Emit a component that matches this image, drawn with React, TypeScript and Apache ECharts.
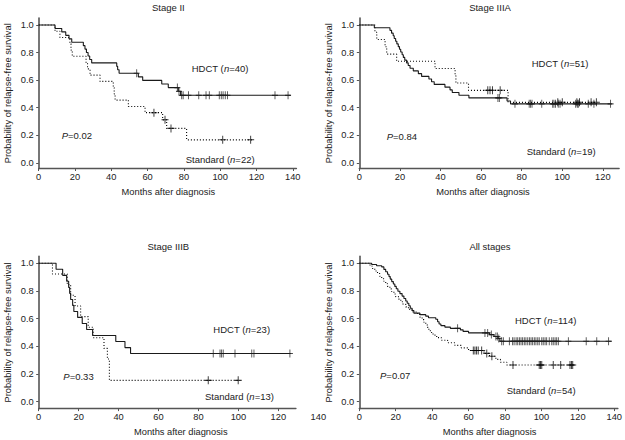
import React, { useEffect, useRef } from 'react';
import * as echarts from 'echarts';

// ---------- text ----------
const panelTitles = ['Stage II', 'Stage IIIA', 'Stage IIIB', 'All stages'];
const hdctN = [40, 51, 23, 114];
const standardN = [22, 19, 13, 54];
const pValues = ['0.02', '0.84', '0.33', '0.07'];
const yAxisTitle = 'Probability of relapse-free survival';
const xAxisTitle = 'Months after diagnosis';
const yTicks = [0, 0.2, 0.4, 0.6, 0.8, 1.0];
const xTicksTo140 = [0, 20, 40, 60, 80, 100, 120, 140];
const xTicksTo120 = [0, 20, 40, 60, 80, 100, 120];
const strayTickLabel = '140';

// ---------- Stage II ----------
const stage2HdctSteps: [number, number][] = [
  [0, 1], [9.0, 0.975], [12.7, 0.95], [14.9, 0.925], [16.7, 0.9], [18.2, 0.875],
  [24.6, 0.85], [25.5, 0.825], [26.3, 0.8], [27.2, 0.775], [28.1, 0.75], [29.2, 0.725],
  [43.0, 0.7], [43.5, 0.675], [44.3, 0.65], [54.9, 0.624], [57.3, 0.598], [67.8, 0.572],
  [71.4, 0.546], [76.9, 0.519], [78.2, 0.49],
];
const stage2HdctCensored = [54.0, 76.4, 77.3, 78.8, 79.6, 82.5, 88.2, 92.2, 94.0, 99.5, 100.6, 101.6, 102.8, 104.0, 130.2, 137.4];
const stage2HdctEnd = 138.8;
const stage2StdSteps: [number, number][] = [
  [0, 1], [9.0, 0.955], [11.7, 0.909], [17.2, 0.864], [17.8, 0.818], [18.5, 0.773],
  [26.1, 0.727], [26.9, 0.682], [28.3, 0.636], [33.8, 0.591], [41.1, 0.545], [41.6, 0.5],
  [42.1, 0.455], [49.4, 0.409], [58.6, 0.364], [68.3, 0.312], [70.5, 0.25], [81.5, 0.167],
];
const stage2StdCensored = [63.5, 69.6, 72.9, 101.4, 116.8];
const stage2StdEnd = 118.1;

// ---------- Stage IIIA ----------
const stage3aHdctSteps: [number, number][] = [
  [0, 1], [7.4, 0.98], [15.1, 0.961], [15.9, 0.941], [16.7, 0.922], [17.2, 0.902],
  [17.9, 0.882], [18.5, 0.863], [19.2, 0.843], [19.8, 0.824], [20.4, 0.804], [21.1, 0.784],
  [21.7, 0.765], [22.4, 0.745], [23.3, 0.725], [24.1, 0.706], [25.0, 0.686], [26.6, 0.667],
  [29.1, 0.647], [30.7, 0.627], [34.3, 0.608], [35.6, 0.588], [36.9, 0.569], [42.2, 0.549],
  [44.7, 0.529], [45.8, 0.51], [49.1, 0.49], [54.0, 0.471], [72.8, 0.449], [74.5, 0.428],
];
const stage3aHdctCensored = [68.3, 69.0, 76.7, 83.7, 84.4, 85.1, 89.9, 95.3, 95.9, 96.7, 98.0, 98.9, 106.6, 107.4, 107.9, 112.8, 115.6, 123.8];
const stage3aHdctEnd = 124.4;
const stage3aStdSteps: [number, number][] = [
  [0, 1], [7.7, 0.947], [8.6, 0.895], [12.7, 0.842], [13.5, 0.789], [18.4, 0.737],
  [37.3, 0.684], [47.2, 0.632], [47.6, 0.579], [53.8, 0.526], [73.3, 0.439],
];
const stage3aStdCensored = [63.3, 64.4, 65.6, 69.4, 97.8, 100.0, 107.2, 108.5, 114.2, 116.8];
const stage3aStdEnd = 117.2;

// ---------- Stage IIIB ----------
const stage3bHdctSteps: [number, number][] = [
  [0, 1], [8.7, 0.957], [12.0, 0.913], [14.0, 0.87], [15.0, 0.826], [15.5, 0.783],
  [16.0, 0.739], [17.0, 0.696], [17.6, 0.652], [19.5, 0.609], [21.8, 0.565], [24.0, 0.522],
  [27.0, 0.478], [38.6, 0.435], [43.2, 0.391], [46.0, 0.348],
];
const stage3bHdctCensored = [87.4, 90.8, 91.6, 92.4, 98.3, 106.7, 107.8, 125.8];
const stage3bHdctEnd = 126.2;
const stage3bStdSteps: [number, number][] = [
  [0, 1], [6.9, 0.923], [14.3, 0.846], [16.0, 0.769], [18.2, 0.692], [21.0, 0.615],
  [24.8, 0.538], [27.3, 0.462], [32.7, 0.385], [34.4, 0.308], [35.4, 0.154],
];
const stage3bStdCensored = [84.9, 99.9];
const stage3bStdEnd = 100.2;

// ---------- All stages ----------
const allHdctSteps: [number, number][] = [
  [0, 1], [6.8, 0.991], [9.5, 0.982], [12.3, 0.974], [13.5, 0.956], [14.5, 0.939],
  [15.5, 0.921], [16.3, 0.904], [17.0, 0.886], [17.8, 0.868], [18.7, 0.851], [19.5, 0.833],
  [20.3, 0.816], [21.2, 0.798], [22.3, 0.781], [23.5, 0.763], [24.5, 0.746], [25.5, 0.728],
  [26.3, 0.711], [27.2, 0.693], [28.0, 0.675], [29.0, 0.658], [30.0, 0.64], [33.3, 0.629],
  [36.5, 0.618], [38.0, 0.607], [42.0, 0.596], [43.0, 0.578], [43.8, 0.561], [44.8, 0.55],
  [47.0, 0.539], [50.0, 0.53], [55.5, 0.519], [57.0, 0.508], [60.0, 0.497], [71.5, 0.485],
  [74.0, 0.471], [76.2, 0.457], [77.2, 0.437],
];
const allHdctCensored = [
  54.0, 69.0, 70.5, 72.5, 75.0, 75.8, 76.6, 78.2, 79.1, 82.4, 84.2, 85.0, 86.1, 87.0, 87.9,
  88.8, 89.7, 90.6, 91.5, 92.5, 93.4, 94.3, 95.2, 96.1, 97.0, 98.0, 98.8, 100.2, 101.0, 102.0,
  102.9, 104.3, 105.7, 106.5, 107.5, 108.4, 109.3, 114.8, 124.6, 130.4, 136.9,
];
const allHdctEnd = 138.6;
const allStdSteps: [number, number][] = [
  [0, 1], [5.9, 0.981], [7.0, 0.963], [8.5, 0.944], [10.0, 0.926], [11.2, 0.907],
  [12.3, 0.889], [13.5, 0.87], [14.5, 0.852], [15.5, 0.833], [16.8, 0.815], [17.8, 0.796],
  [19.0, 0.778], [20.0, 0.759], [21.5, 0.741], [22.8, 0.722], [24.0, 0.704], [25.5, 0.685],
  [27.0, 0.667], [29.0, 0.648], [32.0, 0.63], [33.3, 0.611], [34.5, 0.593], [35.5, 0.574],
  [36.5, 0.556], [37.3, 0.537], [38.2, 0.519], [39.0, 0.5], [40.5, 0.481], [42.5, 0.463],
  [45.0, 0.444], [48.5, 0.426], [52.5, 0.407], [56.0, 0.389], [60.0, 0.37], [68.5, 0.349],
  [71.5, 0.328], [75.0, 0.306], [77.5, 0.285], [81.0, 0.265],
];
const allStdCensored = [62.6, 63.5, 64.4, 65.3, 67.2, 70.0, 72.8, 84.4, 98.8, 99.5, 100.2, 106.5, 110.6, 115.7, 116.5, 117.2];
const allStdEnd = 118.5;

const panelHdct = [
  { steps: stage2HdctSteps, censored: stage2HdctCensored, end: stage2HdctEnd },
  { steps: stage3aHdctSteps, censored: stage3aHdctCensored, end: stage3aHdctEnd },
  { steps: stage3bHdctSteps, censored: stage3bHdctCensored, end: stage3bHdctEnd },
  { steps: allHdctSteps, censored: allHdctCensored, end: allHdctEnd },
];
const panelStd = [
  { steps: stage2StdSteps, censored: stage2StdCensored, end: stage2StdEnd },
  { steps: stage3aStdSteps, censored: stage3aStdCensored, end: stage3aStdEnd },
  { steps: stage3bStdSteps, censored: stage3bStdCensored, end: stage3bStdEnd },
  { steps: allStdSteps, censored: allStdCensored, end: allStdEnd },
];

// ---------- layout (pixels) ----------
const FONT = '"Liberation Sans", Arial, Helvetica, sans-serif';
const TXT = '#222';
const AX = '#555';
const layout = [
  { left: 38.7, top: 18.1, width: 257.7, height: 150.4, xMax: 142, yMin: -0.041, xTicks: xTicksTo140, pad: [0, 0, 0, 1.6] },
  { left: 359.3, top: 18.1, width: 259.8, height: 150.4, xMax: 128, yMin: -0.041, xTicks: xTicksTo120, pad: [0, 12.4, 0, 0] },
  { left: 38.7, top: 256.4, width: 257.2, height: 152.2, xMax: 128.8, yMin: -0.05, xTicks: xTicksTo120, pad: [0, 0, 0, 27] },
  { left: 359.3, top: 256.4, width: 258.6, height: 152.2, xMax: 142, yMin: -0.05, xTicks: xTicksTo140, pad: [0, 0, 0, 2] },
];
const titlePos = [[168.3, 7], [490, 7], [168.3, 246.7], [490, 246.7]];
const hdctPos = [[191.7, 68], [531.7, 63.3], [213.3, 329.3], [515, 320.5]];
const stdPos = [[185.7, 159.2], [526.7, 151], [205, 396.7], [506.7, 390]];
const pPos = [[61.7, 135.5], [386.7, 136.7], [63.3, 376], [380, 375.7]];

function survivalAt(steps: [number, number][], t: number): number {
  let s = 1;
  for (const [tt, v] of steps) if (tt <= t) s = v;
  return s;
}

const PLUS = 'path://M5,0L5,10M0,5L10,5';

export default function App() {
  const ref = useRef<HTMLDivElement>(null);
  useEffect(() => {
    if (!ref.current) return;
    const chart = echarts.init(ref.current, null, { renderer: 'svg' });
    const rich = {
      r: { fontSize: 9.5, fontFamily: FONT, color: TXT },
      i: { fontSize: 9.5, fontFamily: FONT, color: TXT, fontStyle: 'italic' },
    };
    const grids: any[] = [];
    const xAxes: any[] = [];
    const yAxes: any[] = [];
    const series: any[] = [];
    const graphics: any[] = [];
    layout.forEach((L, i) => {
      grids.push({ left: L.left, top: L.top, width: L.width, height: L.height, containLabel: false });
      xAxes.push({
        type: 'value', gridIndex: i, min: 0, max: L.xMax,
        axisLine: { show: true, onZero: false, lineStyle: { color: AX, width: 1.4 } },
        axisTick: { show: true, length: 2.5, customValues: L.xTicks, lineStyle: { color: AX, width: 1 } },
        axisLabel: { customValues: L.xTicks, fontSize: 9.3, color: TXT, margin: 4, fontFamily: FONT },
        splitLine: { show: false },
        name: xAxisTitle, nameLocation: 'middle', nameGap: 19,
        nameTextStyle: { fontSize: 9.3, color: TXT, fontFamily: FONT, padding: L.pad },
      });
      yAxes.push({
        type: 'value', gridIndex: i, min: L.yMin, max: 1.05,
        axisLine: { show: true, onZero: false, lineStyle: { color: AX, width: 1.6 } },
        axisTick: { show: true, length: 2.5, customValues: yTicks, lineStyle: { color: AX, width: 1 } },
        axisLabel: { customValues: yTicks, fontSize: 9.3, color: TXT, margin: 5, fontFamily: FONT, formatter: (v: number) => v.toFixed(1) },
        splitLine: { show: false },
        name: yAxisTitle, nameLocation: 'middle', nameGap: 26,
        nameTextStyle: { fontSize: 9.3, color: TXT, fontFamily: FONT },
      });
      const h = panelHdct[i];
      const s = panelStd[i];
      const hData = [...h.steps, [h.end, h.steps[h.steps.length - 1][1]]];
      const sData = [...s.steps, [s.end, s.steps[s.steps.length - 1][1]]];
      series.push({
        type: 'line', xAxisIndex: i, yAxisIndex: i, step: 'end', data: sData, showSymbol: false, silent: true,
        lineStyle: { color: '#000', width: 1.1, type: [1, 2] }, z: 2,
      });
      series.push({
        type: 'line', xAxisIndex: i, yAxisIndex: i, step: 'end', data: hData, showSymbol: false, silent: true,
        lineStyle: { color: '#1a1a1a', width: 1.1, type: 'solid' }, z: 3,
      });
      series.push({
        type: 'scatter', xAxisIndex: i, yAxisIndex: i, silent: true, symbol: PLUS, symbolSize: [7, 8],
        data: s.censored.map((t) => [t, survivalAt(s.steps, t)]),
        itemStyle: { color: 'none', borderColor: '#000', borderWidth: 1 }, z: 4,
      });
      series.push({
        type: 'scatter', xAxisIndex: i, yAxisIndex: i, silent: true, symbol: PLUS, symbolSize: [6, 8],
        data: h.censored.map((t) => [t, survivalAt(h.steps, t)]),
        itemStyle: { color: 'none', borderColor: '#1a1a1a', borderWidth: 1 }, z: 4,
      });
      graphics.push({
        type: 'text', x: titlePos[i][0], y: titlePos[i][1], silent: true,
        style: { text: panelTitles[i], fontSize: 9.5, fontFamily: FONT, fill: TXT, align: 'center', verticalAlign: 'middle' },
      });
      graphics.push({
        type: 'text', x: hdctPos[i][0], y: hdctPos[i][1], silent: true,
        style: { text: `{r|HDCT (}{i|n}{r|=${hdctN[i]})}`, rich, fontSize: 9.5, fontFamily: FONT, fill: TXT, align: 'left', verticalAlign: 'middle' },
      });
      graphics.push({
        type: 'text', x: stdPos[i][0], y: stdPos[i][1], silent: true,
        style: { text: `{r|Standard (}{i|n}{r|=${standardN[i]})}`, rich, fontSize: 9.5, fontFamily: FONT, fill: TXT, align: 'left', verticalAlign: 'middle' },
      });
      graphics.push({
        type: 'text', x: pPos[i][0], y: pPos[i][1], silent: true,
        style: { text: `{i|P}{r|=${pValues[i]}}`, rich, fontSize: 9.5, fontFamily: FONT, fill: TXT, align: 'left', verticalAlign: 'middle' },
      });
    });
    graphics.push({
      type: 'text', x: 318.3, y: 417, silent: true,
      style: { text: strayTickLabel, fontSize: 9.3, fontFamily: FONT, fill: TXT, align: 'center', verticalAlign: 'middle' },
    });
    chart.setOption({
      animation: false,
      backgroundColor: '#fff',
      textStyle: { fontFamily: FONT },
      grid: grids,
      xAxis: xAxes,
      yAxis: yAxes,
      series,
      graphic: graphics,
    });
    return () => chart.dispose();
  }, []);
  return <div ref={ref} style={{ position: 'absolute', left: 0, top: 0, width: 625, height: 440 }} />;
}
